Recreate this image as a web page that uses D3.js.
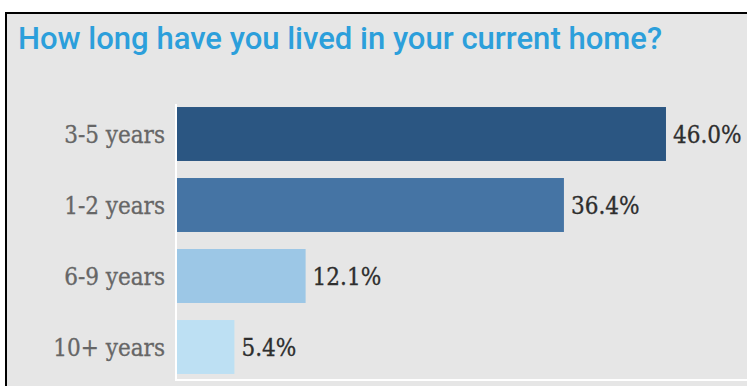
<!DOCTYPE html>
<html><head><meta charset="utf-8">
<script src="https://cdn.jsdelivr.net/npm/d3@7"></script>
<style>html,body{margin:0;padding:0;background:#fff;}svg{display:block;}</style>
</head><body>
<script>
const categories = ["3-5 years", "1-2 years", "6-9 years", "10+ years"];
const values = [46.0, 36.4, 12.1, 5.4];
const valueLabels = ["46.0%", "36.4%", "12.1%", "5.4%"];
const barColors = ["#2b5682", "#4574a4", "#9cc7e6", "#bde0f3"];
const title = "How long have you lived in your current home?";

const W = 747, H = 386;
const svg = d3.select("body").append("svg").attr("width", W).attr("height", H);

svg.append("rect").attr("x", 0).attr("y", 0).attr("width", W).attr("height", H).attr("fill", "#fff");
svg.append("rect").attr("x", 6).attr("y", 13).attr("width", W + 10).attr("height", H + 10)
  .attr("fill", "#e6e6e6").attr("stroke", "#000").attr("stroke-width", 2);

svg.append("text").attr("x", 18).attr("y", 49).text(title)
  .attr("font-family", "Roboto, 'Open Sans', sans-serif").attr("font-weight", 500)
  .attr("font-size", 31).attr("fill", "#2c9fdb")
  .attr("textLength", 644).attr("lengthAdjust", "spacingAndGlyphs");

const y = d3.scaleBand().domain(categories).range([98.5, 382.5]).paddingInner(0.24).paddingOuter(0.12);
const x = d3.scaleLinear().domain([0, 50]).range([177, 177 + 531.5]);

// axis lines (white)
svg.append("line").attr("x1", x(0) - 1).attr("x2", x(0) - 1).attr("y1", 104).attr("y2", 381)
  .attr("stroke", "#fff").attr("stroke-width", 2);
svg.append("line").attr("x1", x(0) - 2).attr("x2", W).attr("y1", 380).attr("y2", 380)
  .attr("stroke", "#fff").attr("stroke-width", 2);

const data = categories.map((c, i) => ({c, v: values[i], l: valueLabels[i], col: barColors[i]}));

svg.selectAll("rect.bar").data(data).enter().append("rect").attr("class", "bar")
  .attr("x", x(0)).attr("y", d => y(d.c)).attr("width", d => x(d.v) - x(0))
  .attr("height", y.bandwidth()).attr("fill", d => d.col);

const serif = "'DejaVu Serif', 'Liberation Serif', serif";
svg.selectAll("text.cat").data(data).enter().append("text").attr("class", "cat")
  .attr("x", 165).attr("y", d => y(d.c) + y.bandwidth() / 2 + 9)
  .attr("text-anchor", "end").attr("font-family", serif).attr("font-stretch", "condensed")
  .attr("font-size", 24).attr("fill", "#666").attr("stroke", "#666").attr("stroke-width", 0.3)
  .text(d => d.c);

svg.selectAll("text.val").data(data).enter().append("text").attr("class", "val")
  .attr("x", d => x(d.v) + 7).attr("y", d => y(d.c) + y.bandwidth() / 2 + 9)
  .attr("font-family", serif).attr("font-stretch", "condensed")
  .attr("font-size", 24).attr("fill", "#2e2e2e").attr("stroke", "#2e2e2e").attr("stroke-width", 0.3)
  .text(d => d.l);
</script>
</body></html>
